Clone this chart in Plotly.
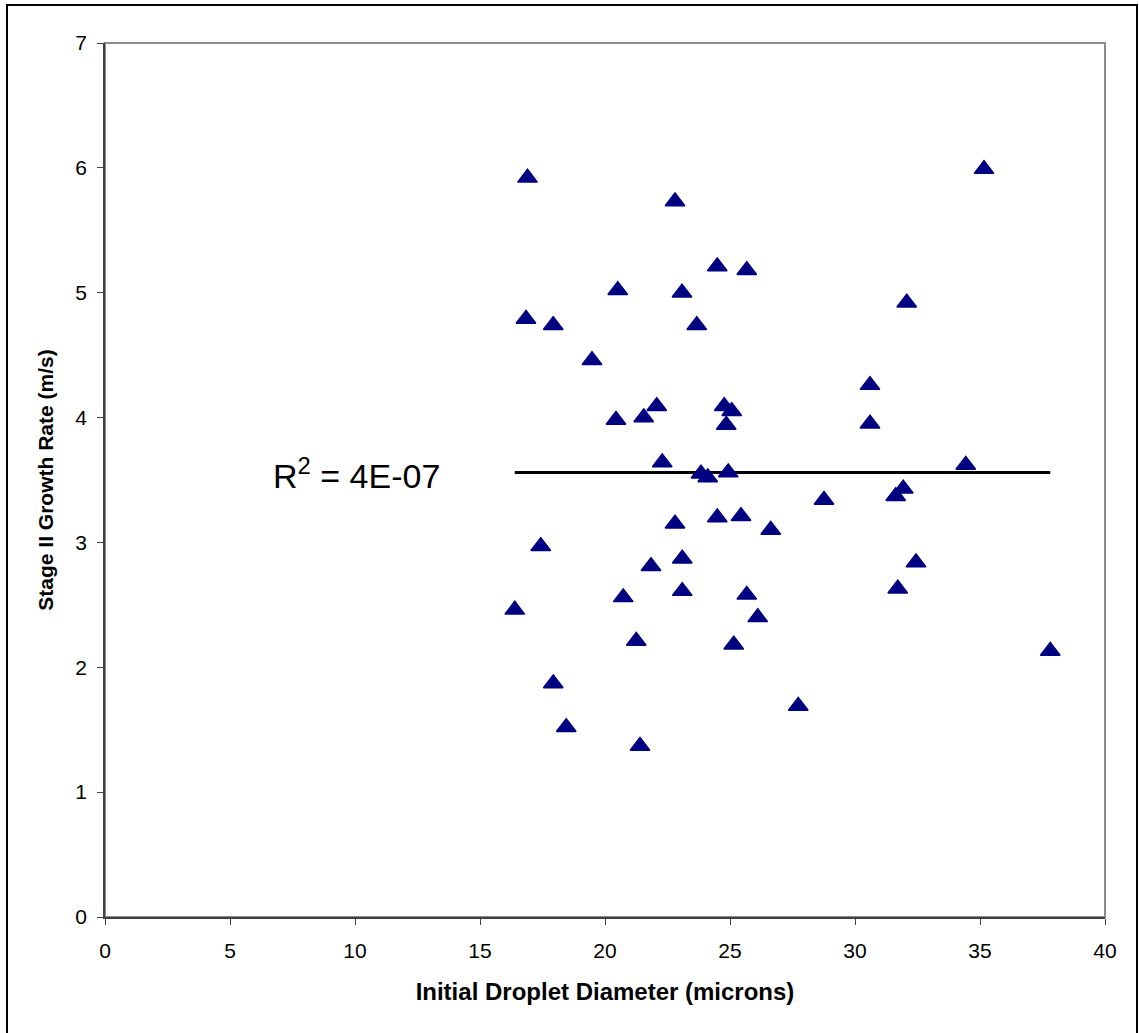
import plotly.graph_objects as go

diameter = [16.90, 22.80, 24.49, 25.67, 20.51, 23.08, 16.84, 17.93, 23.67, 19.48,
            22.07, 21.55, 20.44, 24.77, 25.07, 24.85, 22.29, 23.84, 24.11, 24.93,
            22.80, 24.49, 25.44, 26.63, 17.43, 23.09, 21.84, 20.73, 23.09, 25.67,
            26.11, 16.39, 21.25, 25.15, 17.93, 27.73, 18.45, 21.40, 35.16, 32.07,
            30.60, 30.60, 34.43, 31.93, 31.63, 28.76, 32.44, 31.71, 37.81]
growth = [5.92, 5.73, 5.21, 5.18, 5.02, 5.00, 4.79, 4.74, 4.74, 4.46,
          4.09, 4.00, 3.98, 4.09, 4.05, 3.94, 3.64, 3.55, 3.52, 3.56,
          3.15, 3.20, 3.21, 3.10, 2.97, 2.87, 2.81, 2.56, 2.61, 2.58,
          2.40, 2.46, 2.21, 2.18, 1.87, 1.69, 1.52, 1.37, 5.99, 4.92,
          4.26, 3.95, 3.62, 3.43, 3.37, 3.34, 2.84, 2.63, 2.13]
x_ticks = [0, 5, 10, 15, 20, 25, 30, 35, 40]
y_ticks = [0, 1, 2, 3, 4, 5, 6, 7]
r2_label = "R<sup>2</sup> = 4E-07"

# Linear trendline (reported R^2 = 4E-07 -> essentially flat at the mean)
n = len(diameter)
mx = sum(diameter) / n
my = sum(growth) / n
slope = 0.0
trend_x = [min(diameter), max(diameter)]
trend_y = [my + slope * (x - mx) for x in trend_x]

FONT = "Arial, Liberation Sans, sans-serif"

fig = go.Figure()
fig.add_trace(go.Scatter(x=trend_x, y=trend_y, mode="lines",
                         line=dict(color="black", width=3), showlegend=False,
                         hoverinfo="skip"))
fig.add_trace(go.Scatter(x=diameter, y=growth, mode="markers",
                         marker=dict(symbol="triangle-up", size=17, color="#000080",
                                     line=dict(color="#000080", width=1.5)),
                         showlegend=False))

axis_common = dict(showgrid=False, zeroline=False, ticks="outside", ticklen=6,
                   tickcolor="#404040", tickwidth=1, showline=True, linecolor="#404040",
                   linewidth=1.5, tickfont=dict(family=FONT, size=21, color="black"),
                   mirror=False)

fig.update_xaxes(range=[0, 40], tickvals=x_ticks, **axis_common, ticklabelstandoff=8,
                 title=dict(text="<b>Initial Droplet Diameter (microns)</b>",
                            font=dict(family=FONT, size=24, color="black"),
                            standoff=22))
fig.update_yaxes(range=[0, 7], tickvals=y_ticks, **axis_common, ticklabelstandoff=6,
                 title=dict(text="<b>Stage II Growth Rate (m/s)</b>",
                            font=dict(family=FONT, size=21, color="black"),
                            standoff=16))

# plot-area border (gray)
fig.add_shape(type="rect", xref="paper", yref="paper", x0=0, y0=0, x1=1, y1=1,
              line=dict(color="#8c8c8c", width=2), layer="below")
# outer chart border (bottom edge lies beyond the image)
fig.add_shape(type="rect", xref="paper", yref="paper",
              x0=(7 - 105) / 1000, x1=(1137 - 105) / 1000,
              y0=(917 - 1045) / 874, y1=(917 - 5) / 874,
              line=dict(color="black", width=2))

fig.add_annotation(text=r2_label, xref="paper", yref="paper",
                   x=(271 - 105) / 1000, y=(917 - 473) / 874, xanchor="left", yanchor="middle",
                   showarrow=False, font=dict(family=FONT, size=34, color="black"))

fig.update_layout(width=1139, height=1033, plot_bgcolor="white", paper_bgcolor="white",
                  margin=dict(l=105, r=34, t=43, b=116))

fig.write_html("out.html")
